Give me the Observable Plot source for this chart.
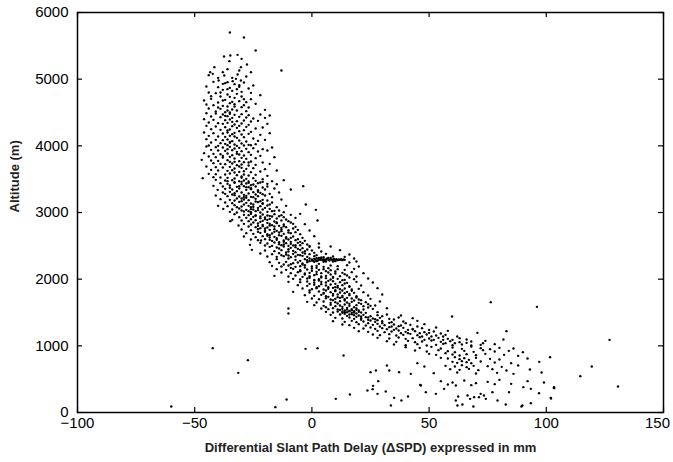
<!DOCTYPE html>
<html><head><meta charset="utf-8">
<script src="https://cdn.jsdelivr.net/npm/d3@7"></script>
<script src="https://cdn.jsdelivr.net/npm/@observablehq/plot@0.6"></script>
<style>body{margin:0;background:#fff}</style>
</head><body><div id="chart"></div>
<script>
const xTicks = [-100, -50, 0, 50, 100, 150];
const yTicks = [0, 1000, 2000, 3000, 4000, 5000, 6000];
const xLabel = "Differential Slant Path Delay (\u0394SPD) expressed in mm";
const yLabel = "Altitude (m)";

// [ΔSPD mm, altitude m], grouped by altitude band
const band5000 = [[-35,5700],[-29,5625],[-24,5430],[-13,5130],[-37.5,5340],[-34.8,5355],[-31.7,5365],[-30,5305],[-35.2,5270],[-27.7,5220],[-30.3,5180],[-41.6,5180],[-43.4,5105],[-42.3,5080],[-38,5105],[-37.4,5055],[-31,5130],[-26,5105],[-31.7,5070],[-32.4,5005],[-39.8,4980],[-38,4930],[-36,4955],[-33.8,4970],[-30.3,4980],[-44,5060],[-34,5020],[-28,5040],[-36,5150],[-40,5020]];
const band4500 = [[-42,4960],[-37,4940],[-33,4925],[-29,4950],[-25,4905],[-45,4890],[-40,4880],[-35,4870],[-31,4885],[-27,4860],[-38,4840],[-34,4825],[-30,4810],[-44,4800],[-41,4790],[-36,4770],[-32,4780],[-26,4795],[-22,4760],[-39,4740],[-35,4735],[-33,4720],[-29,4700],[-43,4705],[-46,4680],[-37,4690],[-31,4670],[-28,4655],[-40,4650],[-35,4640],[-33,4625],[-24,4630],[-42,4610],[-38,4600],[-36,4590],[-30,4580],[-27,4575],[-44,4560],[-39,4555],[-34,4545],[-32,4530],[-28,4520],[-20,4540],[-41,4515],[-37,4505],[-35,4500],[-31,4910],[-36,4850],[-43,4745],[-30,4740],[-38,4680],[-34,4660],[-26,4700],[-40,4575],[-33,4590],[-36,4530],[-29,4610],[-45,4620],[-32,4850],[-39,4800]];
const band4000 = [[-45,4490],[-41,4485],[-38,4470],[-35,4480],[-33,4465],[-30,4475],[-27,4460],[-22,4470],[-18,4455],[-43,4440],[-39,4430],[-36,4445],[-34,4420],[-31,4435],[-28,4425],[-25,4410],[-20,4420],[-46,4400],[-42,4390],[-37,4385],[-35,4395],[-32,4370],[-29,4380],[-26,4365],[-23,4375],[-44,4350],[-40,4340],[-38,4330],[-36,4345],[-33,4320],[-30,4335],[-27,4315],[-19,4330],[-45,4300],[-41,4290],[-37,4280],[-34,4295],[-32,4270],[-28,4285],[-24,4260],[-21,4275],[-43,4250],[-39,4240],[-36,4230],[-35,4245],[-31,4220],[-29,4235],[-26,4210],[-46,4200],[-42,4190],[-38,4185],[-34,4175],[-33,4195],[-30,4170],[-27,4180],[-22,4165],[-18,4190],[-44,4150],[-40,4140],[-37,4135],[-35,4150],[-32,4120],[-29,4130],[-25,4110],[-45,4100],[-41,4090],[-38,4085],[-36,4095],[-34,4070],[-31,4080],[-28,4065],[-23,4075],[-20,4090],[-43,4050],[-39,4040],[-37,4030],[-35,4045],[-33,4020],[-30,4035],[-27,4015],[-24,4025],[-44,4005],[-40,4000],[-36,4010],[-32,4000],[-29,4005],[-26,4008],[-37,4450],[-34,4360],[-31,4300],[-36,4200],[-33,4140],[-35,4060]];
const band3500 = [[-45,3990],[-41,3980],[-38,3975],[-35,3985],[-33,3960],[-31,3970],[-28,3955],[-25,3965],[-21,3950],[-17,3975],[-43,3940],[-40,3930],[-37,3925],[-34,3935],[-32,3910],[-30,3920],[-27,3905],[-23,3915],[-19,3930],[-46,3890],[-42,3880],[-39,3875],[-36,3885],[-34,3860],[-31,3870],[-29,3855],[-26,3865],[-22,3850],[-44,3840],[-41,3830],[-38,3825],[-35,3835],[-33,3810],[-30,3820],[-28,3805],[-24,3815],[-16,3830],[-47,3790],[-43,3780],[-40,3775],[-36,3785],[-33,3760],[-31,3770],[-29,3755],[-26,3765],[-21,3750],[-42,3740],[-39,3730],[-37,3725],[-34,3735],[-32,3710],[-30,3720],[-27,3705],[-24,3715],[-18,3730],[-45,3690],[-41,3680],[-38,3675],[-35,3685],[-33,3660],[-30,3670],[-28,3655],[-25,3665],[-20,3650],[-43,3640],[-40,3630],[-36,3625],[-34,3635],[-31,3610],[-29,3620],[-26,3605],[-22,3615],[-15,3630],[-44,3580],[-41,3575],[-37,3570],[-35,3585],[-32,3560],[-29,3570],[-27,3555],[-24,3565],[-19,3550],[-46.6,3515],[-42,3530],[-39,3525],[-36,3520],[-33,3510],[-30,3520],[-28,3505],[-25,3515],[-21,3500],[-36,3950],[-32,3880],[-35,3760],[-31,3690],[-33,3600],[-30,3540],[-38,3850],[-27,3750]];
const band3000 = [[-41,3490],[-37,3480],[-34,3485],[-31,3470],[-29,3480],[-27,3465],[-24,3475],[-21,3460],[-17,3470],[-12,3485],[-39,3440],[-36,3430],[-33,3445],[-30,3425],[-28,3435],[-25,3420],[-23,3440],[-19,3430],[-15,3425],[-42,3400],[-38,3390],[-35,3405],[-32,3385],[-29,3395],[-27,3380],[-24,3390],[-21,3375],[-3.7,3395],[-40.2,3340],[-37,3355],[-34,3345],[-31,3360],[-28,3340],[-26,3350],[-23,3335],[-20,3345],[-9,3345],[-16,3360],[-38,3300],[-35,3310],[-33,3290],[-30,3300],[-27,3285],[-25,3305],[-22,3295],[-18,3280],[-14,3300],[-41,3255],[-36,3245],[-33,3260],[-31,3240],[-28,3250],[-26,3235],[-23,3245],[-20,3255],[-17,3230],[-39,3200],[-35,3190],[-32,3210],[-29,3195],[-27,3185],[-24,3205],[-21,3190],[-19,3180],[-13,3195],[-37,3150],[-34,3140],[-31,3160],[-28,3145],[-26,3135],[-23,3155],[-21,3140],[-17,3150],[-2.6,3120],[-40,3100],[-36,3095],[-33,3110],[-30,3090],[-27,3100],[-25,3085],[-22,3095],[-19,3105],[-15,3080],[-11,3100],[-37.8,3055],[-34,3045],[-31,3060],[-28,3040],[-26,3050],[-23,3035],[-21,3045],[-18,3055],[-14,3030],[1.7,3040],[-35,3010],[-32,3000],[-29,3015],[-26,3005],[-24,3020],[-22,3000],[-19,3010],[-16,3025],[-12,3005],[-30,3460],[-26,3410],[-32,3320],[-24,3270],[-29,3230],[-22,3170],[-25,3120],[-20,3070],[-27,3020],[-28,3380],[-23,3310],[-30,3210],[-21,3130],[-26,3080],
  [-36,3470],[-33,3455],[-27,3445],[-22,3450],[-35,3370],[-31,3395],[-26,3365],[-19,3390],[-37,3280],[-34,3270],[-29,3265],[-21,3275],[-28,3220],[-25,3230],[-33,3180],[-30,3170],[-24,3165],[-18,3120],[-29,3120],[-32,3080],[-23,3070],[-17,3020],[-30,3030],[-25,3045]];
const band2500 = [[-33,2975],[-29,2965],[-26,2980],[-24,2960],[-21,2970],[-19,2955],[-16,2975],[-13,2960],[-9,2965],[-5,2980],[-31,2930],[-28,2920],[-25,2935],[-22,2915],[-20,2925],[-17,2940],[-15,2910],[-12,2930],[-7,2920],[-34,2890],[-30,2880],[-27,2870],[-24,2885],[-21,2875],[-19,2890],[-16,2865],[-13,2880],[-10,2870],[2.4,2880],[-34.8,2870],[-29,2830],[-26,2820],[-23,2835],[-21,2815],[-18,2830],[-15,2840],[-12,2820],[-8,2830],[-3,2825],[-31.3,2805],[-27,2790],[-24,2780],[-21,2795],[-19,2775],[-16,2790],[-14,2800],[-11,2780],[-7,2785],[-30,2745],[-26,2735],[-23,2750],[-20,2730],[-18,2740],[-15,2725],[-13,2745],[-10,2735],[-6,2740],[-1,2730],[-28,2690],[-25,2680],[-22,2695],[-19,2675],[-17,2685],[-14,2700],[-12,2680],[-9,2690],[-5,2675],[-29,2640],[-24,2630],[-21,2645],[-18,2625],[-16,2635],[-13,2650],[-11,2630],[-8,2640],[-4,2620],[1,2645],[-21.7,2580],[-26,2595],[-23,2585],[-20,2600],[-17,2575],[-15,2590],[-12,2580],[-10,2595],[-7,2585],[-3,2575],[-26.4,2515],[-22,2545],[-19,2535],[-16,2550],[-14,2525],[-11,2540],[-9,2530],[-6,2545],[-2,2520],[3,2535],[-20,2505],[-17,2500],[-13,2510],[-10,2500],[-8,2505],[-5,2510],[-1,2500],[-24,2950],[-20,2900],[-22,2860],[-17,2810],[-20,2760],[-16,2710],[-14,2660],[-11,2610],[-9,2560],[-18,2950],[-15,2850],[-13,2770],[-10,2700],[-6,2600],[-23,2710],[-18,2660],[-12,2560],[-7,2510],
  [-27,2960],[-22,2940],[-14,2945],[-26,2900],[-18,2905],[-11,2895],[-25,2850],[-19,2845],[-9,2850],[-23,2800],[-18,2805],[-12,2795],[-22,2765],[-16,2750],[-8,2760],[-20,2710],[-13,2720],[-7,2705],[-19,2650],[-15,2615],[-9,2620],[-18,2590],[-14,2555],[-5,2560],[-12,2520],[-4,2540]];
const band2000 = [[-25.6,2440],[-18,2485],[-15,2475],[-12,2490],[-9,2470],[-7,2480],[-4,2465],[-1,2485],[3,2475],[8,2490],[-20,2430],[-16,2420],[-13,2435],[-10,2415],[-8,2425],[-5,2440],[-3,2420],[0,2430],[4,2415],[12,2435],[-22,2385],[-17,2375],[-14,2390],[-11,2370],[-8,2380],[-6,2365],[-3,2385],[-1,2375],[2,2360],[6,2380],[16,2370],[-19,2340],[-15,2335],[-12,2345],[-9,2330],[-7,2340],[-4,2350],[-2,2335],[1,2345],[5,2330],[9,2340],[14,2335],[-3,2300],[-2,2285],[-1,2310],[0,2295],[0.5,2275],[1,2305],[1.5,2290],[2,2315],[2.5,2280],[3,2300],[3.5,2290],[4,2310],[4.5,2285],[5,2300],[5.5,2275],[6,2295],[6.5,2310],[7,2290],[7.5,2280],[8,2300],[8.5,2295],[9,2285],[9.5,2305],[10,2290],[10.5,2300],[11,2285],[11.5,2295],[12,2290],[12.5,2300],[13,2285],[13.5,2295],[14,2290],[2,2270],[4,2325],[6,2265],[8,2320],[10,2270],[1,2260],[3,2320],[5,2260],[7,2320],[9,2265],[0,2280],[-1,2270],[-18,2255],[-14,2245],[-11,2260],[-8,2240],[-6,2250],[-4,2235],[-2,2255],[16,2250],[19,2265],[-15,2300],[-10,2310],[-7,2290],[-5,2275],[18,2310],[-17,2200],[-13,2190],[-10,2205],[-7,2185],[-5,2195],[-3,2210],[0,2190],[2,2200],[5,2185],[8,2205],[11,2195],[15,2210],[20,2190],[-15,2150],[-11,2140],[-8,2155],[-5,2135],[-2,2145],[0,2160],[3,2140],[5,2150],[8,2135],[11,2150],[14,2140],[18,2155],[-13,2100],[-9,2090],[-6,2105],[-3,2085],[-1,2095],[2,2110],[4,2090],[7,2100],[10,2085],[13,2095],[17,2105],[22,2090],[-16,2050],[-10,2040],[-7,2055],[-4,2035],[-1,2045],[1,2060],[4,2040],[6,2050],[9,2035],[12,2045],[15,2055],[19,2040],[-8,2005],[-5,1995],[-2,2010],[1,1990],[3,2000],[6,2015],[8,1995],[11,2005],[14,1990],[18,2000],[24,2010],
  [-14,2460],[-10,2450],[-6,2455],[-2,2445],[-11,2400],[-7,2405],[-4,2400],[1,2395],[-13,2360],[-10,2355],[-5,2360],[-12,2220],[-9,2225],[-4,2220],[3,2230],[-9,2170],[-3,2175],[2,2170],[7,2165],[-5,2120],[0,2125],[6,2120],[10,2115],[-3,2070],[2,2075],[8,2070],[14,2075],[-1,2020],[4,2025],[9,2020],[16,2025]];
const band1500 = [[-10,1960],[-5,1955],[-2,1965],[1,1945],[4,1960],[6,1950],[9,1970],[12,1955],[15,1945],[19,1960],[26,1950],[-6,1910],[-2,1900],[1,1915],[3,1895],[6,1905],[8,1920],[11,1900],[13,1910],[16,1895],[21,1905],[-4,1860],[0,1850],[2,1865],[5,1845],[7,1855],[9,1870],[12,1850],[14,1860],[17,1845],[20,1855],[28,1865],[-8,1810],[-1,1800],[3,1815],[5,1795],[8,1805],[10,1820],[12,1800],[15,1810],[18,1795],[22,1805],[-3,1760],[1,1750],[4,1765],[6,1745],[9,1755],[11,1770],[13,1750],[16,1760],[19,1745],[24,1755],[30,1770],[0,1710],[3,1700],[6,1715],[8,1695],[10,1705],[12,1720],[14,1700],[17,1710],[20,1695],[25,1705],[-2,1660],[2,1650],[5,1665],[8,1645],[10,1655],[12,1670],[15,1650],[17,1660],[20,1645],[23,1655],[29,1665],[1,1610],[5,1600],[8,1615],[10,1595],[12,1605],[14,1620],[16,1600],[19,1610],[22,1595],[27,1605],[-10,1560],[4,1560],[7,1550],[9,1565],[11,1545],[13,1555],[15,1570],[17,1550],[19,1560],[22,1545],[26,1555],[32,1565],[-10,1485],[6,1510],[9,1500],[11,1515],[13,1495],[14,1505],[16,1520],[18,1500],[20,1510],[23,1495],[28,1505],[12,1540],[14,1530],[15,1545],[16,1525],[17,1535],[18,1520],[19,1540],[20,1530],[13,1515],[15,1505],[17,1495],[19,1485],[21,1500],[14,1480],[16,1470],[18,1460],[3,1980],[10,1930],[7,1880],[13,1830],[16,1780],[11,1730],[18,1680],[21,1630],[6,1580],[10,1880],[15,1720],[-1,1830],[25,1600],
  [1,1980],[7,1975],[13,1985],[-1,1930],[4,1925],[14,1935],[2,1880],[11,1875],[16,1885],[6,1830],[10,1835],[17,1825],[5,1785],[9,1780],[14,1790],[7,1735],[13,1730],[19,1725],[9,1685],[14,1680],[21,1685],[11,1635],[16,1630],[24,1625],[13,1585],[18,1580],[24,1575]];
const band1000 = [[8,1465],[12,1470],[15,1450],[17,1475],[20,1455],[22,1465],[25,1445],[28,1460],[32,1470],[38,1455],[10,1420],[13,1410],[16,1425],[18,1405],[21,1415],[23,1430],[26,1410],[29,1420],[33,1405],[37,1425],[43,1415],[9,1370],[14,1360],[17,1375],[19,1355],[22,1365],[25,1380],[27,1360],[30,1370],[34,1355],[39,1365],[45,1375],[13,1320],[16,1310],[20,1325],[23,1305],[26,1315],[28,1330],[31,1310],[35,1320],[38,1305],[42,1315],[48,1325],[18,1270],[22,1260],[25,1275],[27,1255],[30,1265],[33,1280],[36,1260],[39,1270],[43,1255],[47,1265],[53,1275],[20,1220],[24,1210],[28,1225],[31,1205],[34,1215],[37,1230],[40,1210],[44,1220],[48,1205],[52,1215],[58,1225],[83,1220],[26,1170],[29,1160],[33,1175],[36,1155],[39,1165],[42,1180],[45,1160],[49,1170],[53,1155],[57,1165],[70.6,1195],[28,1120],[33,1110],[37,1125],[40,1105],[43,1115],[46,1130],[50,1110],[54,1120],[58,1105],[63,1115],[81.7,1095],[32,1070],[36,1060],[41,1075],[44,1055],[47,1065],[51,1080],[55,1060],[59,1070],[63,1055],[68,1065],[74,1075],[35,1020],[40,1010],[45,1025],[49,1005],[53,1015],[56,1030],[60,1010],[64,1020],[68,1005],[72,1015],[78,1025],[59.8,1440],[76.3,1655],[96,1585],[127,1090],[24,1390],[30,1340],[34,1290],[41,1240],[46,1190],[51,1140],[56,1090],[61,1040],[21,1440],[27,1400],[32,1250],[38,1190],[48,1090],
  [19,1435],[24,1425],[30,1445],[21,1390],[28,1385],[35,1395],[24,1340],[33,1345],[40,1340],[29,1290],[37,1295],[45,1290],[35,1240],[43,1245],[50,1240],[41,1190],[50,1195],[55,1185],[47,1140],[56,1140],[62,1140],[52,1090],[60,1090],[66,1095],[57,1040],[66,1045],[73,1040]];
const band500 = [[40,980],[46,970],[51,985],[55,960],[60,975],[64,955],[68,990],[72,965],[76,950],[80,970],[86,960],[44,930],[49,915],[54,935],[58,920],[61,905],[65,925],[69,910],[73,935],[78,915],[84,925],[90,905],[50,880],[53,865],[57,890],[60,870],[63,855],[66,875],[70,860],[74,880],[82,865],[88,850],[101.6,830],[55,820],[58,810],[61,830],[63,800],[65,815],[67,790],[70,820],[76,805],[80,795],[92,810],[60,760],[62,745],[64,770],[66,755],[68,740],[72,765],[78,750],[85,740],[97,760],[57,700],[61,690],[64,710],[66,680],[69,700],[75,695],[81,685],[88,705],[119.4,690],[59,650],[63,640],[67,655],[71,635],[77,650],[83,630],[93,645],[52,590],[62,600],[70,585],[79,595],[86,580],[98,600],[114.5,545],[-42.3,965],[-27.3,785],[-31.4,595],[-2.7,955],[2.4,965],[13.5,855],[25,605],[27.3,630],[32,705],[33,630],[37.2,605],[42.2,580],[45,740],[48,690]];
const band0 = [[-60,90],[-15.6,80],[-10.8,195],[10.2,205],[16.2,270],[23.7,330],[28.3,470],[26.1,400],[31.5,315],[33.7,105],[38.2,180],[41,240],[46.5,405],[48.6,305],[52.9,280],[56.4,355],[61.4,180],[62.1,105],[64.2,120],[66.4,255],[69.2,230],[72,280],[74.2,205],[77,305],[79.2,180],[25.9,350],[28,280],[35.1,220],[46.2,415],[61.4,405],[62.4,240],[67.5,205],[68.9,90],[71.3,230],[73.4,255],[82.7,120],[84.1,305],[89.8,105],[90.2,380],[93.4,140],[93.4,355],[96.9,290],[101.9,220],[103.3,380],[130.6,390],[89.4,90],[102,210],[103.3,365],[55,470],[60,450],[65,480],[70,440],[75,460],[80,490],[85,430],[92,470],[58,420],[68,410],[78,425],[99,450]];

const points = [].concat(band5000, band4500, band4000, band3500, band3000, band2500, band2000, band1500, band1000, band500, band0);

const xDomain = [-100, 150];
const yDomain = [0, 6000];
// inward tick length of about 5 px, expressed in data units of each scale
const xTickLen = (xDomain[1] - xDomain[0]) * 5 / 586;
const yTickLen = (yDomain[1] - yDomain[0]) * 5 / 400;

const font = "'Liberation Sans', Arial, Helvetica, sans-serif";
const plain = d3.format("d");
const lastX = xTicks[xTicks.length - 1];
const chart = Plot.plot({
  width: 673, height: 462,
  marginLeft: 77, marginRight: 10, marginTop: 12, marginBottom: 50,
  style: {fontFamily: font, fontSize: "15px", color: "#000", background: "#fff"},
  x: {domain: xDomain},
  y: {domain: yDomain},
  marks: [
    Plot.dot(points, {x: d => d[0], y: d => d[1], r: 1.2, fill: "#000", stroke: null}),
    // inward tick marks on all four sides
    Plot.ruleX(xTicks, {x: d => d, y1: yDomain[0], y2: yDomain[0] + yTickLen, stroke: "#000", strokeWidth: 1.2}),
    Plot.ruleX(xTicks, {x: d => d, y1: yDomain[1] - yTickLen, y2: yDomain[1], stroke: "#000", strokeWidth: 1.2}),
    Plot.ruleY(yTicks, {y: d => d, x1: xDomain[0], x2: xDomain[0] + xTickLen, stroke: "#000", strokeWidth: 1.2}),
    Plot.ruleY(yTicks, {y: d => d, x1: xDomain[1] - xTickLen, x2: xDomain[1], stroke: "#000", strokeWidth: 1.2}),
    Plot.frame({stroke: "#000", strokeWidth: 1.5}),
    // tick labels
    Plot.axisX(xTicks.slice(0, -1), {anchor: "bottom", tickSize: 0, tickPadding: 5, label: null, fill: "#000"}),
    Plot.axisX([lastX], {anchor: "bottom", tickSize: 0, tickPadding: 5, label: null, dx: -6, fill: "#000"}),
    Plot.axisY(yTicks, {anchor: "left", tickSize: 0, tickPadding: 9, label: null, tickFormat: plain, fill: "#000"}),
    Plot.text([xLabel], {frameAnchor: "bottom", dy: 39, fontWeight: "bold", fontSize: 13, fill: "#222"}),
    Plot.text([yLabel], {frameAnchor: "left", dx: -63, rotate: -90, fontWeight: "bold", fontSize: 13, fill: "#222"})
  ]
});
document.getElementById("chart").append(chart);
</script>
</body></html>
